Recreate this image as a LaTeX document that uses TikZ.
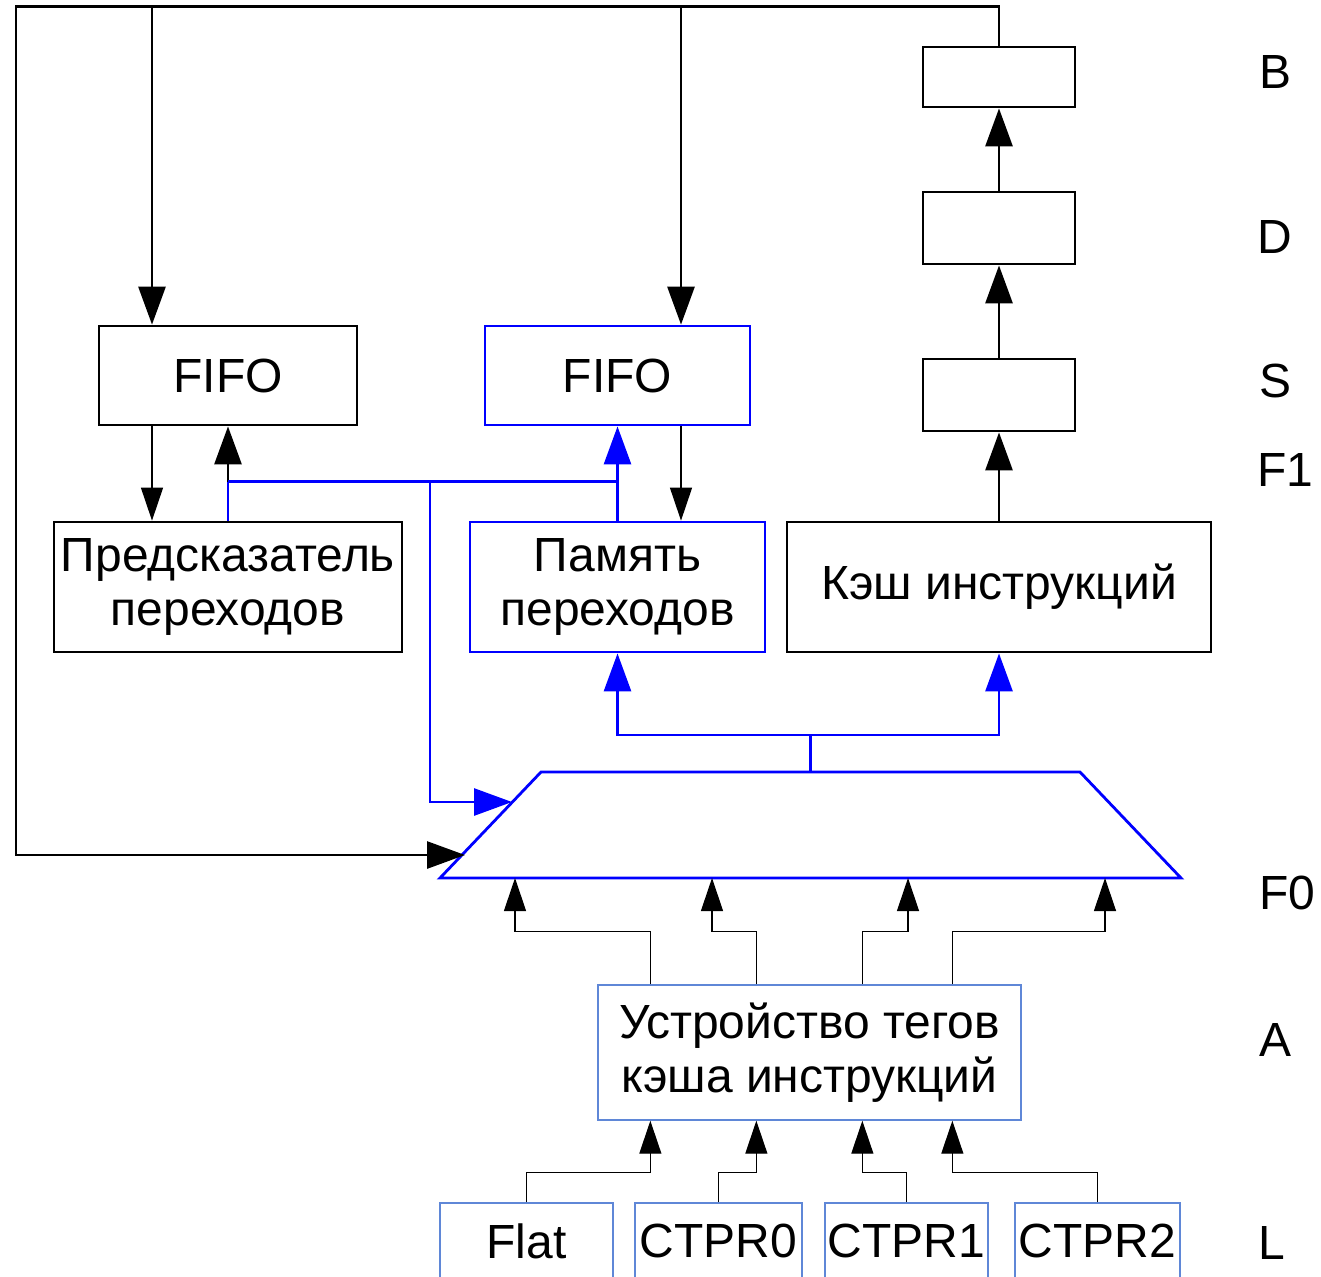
\documentclass[tikz,border=0pt]{standalone}
\usepackage{fontspec}
\setmainfont{Liberation Sans}
\usepackage{xcolor}
\usetikzlibrary{arrows.meta,positioning,calc}

\definecolor{tagblue}{RGB}{95,135,215}
\newcommand{\bigtxt}{\fontsize{27.3}{30.5}\selectfont}

\begin{document}
\begin{tikzpicture}[
    x=0.02cm, y=-0.02cm,
    box/.style={draw, line width=1.6pt, inner sep=0pt, align=center, font=\bigtxt},
    bbox/.style={box, draw=blue},
    tbox/.style={draw=tagblue, line width=0.8pt, inner sep=0pt, align=center, font=\bigtxt},
    lbl/.style={font=\bigtxt},
    wire/.style={line width=1.6pt},
    bwire/.style={wire, blue},
    arr/.style={-{Triangle[length=0.76cm, width=0.54cm]}, line width=1.6pt},
    barr/.style={arr, blue},
    tarr/.style={-{Triangle[length=0.66cm, width=0.44cm]}, line width=0.7pt}
]
\useasboundingbox (0,0) rectangle (1321,1276);

% pipeline stages
\node[box, minimum width=3.04cm, minimum height=1.2cm] (rb) at (999,77) {};
\node[box, minimum width=3.04cm, minimum height=1.44cm] (rd) at (999,228) {};
\node[box, minimum width=3.04cm, minimum height=1.44cm] (rs) at (999,395) {};
\node[box, minimum width=8.48cm, minimum height=2.6cm] (icache) at (999,587) {Кэш инструкций};
\draw[arr] (icache) -- (rs);
\draw[arr] (rs) -- (rd);
\draw[arr] (rd) -- (rb);

% fifos and branch units
\node[box, minimum width=5.16cm, minimum height=1.98cm] (fifoa) at (228,375.5) {FIFO};
\node[bbox, minimum width=5.3cm, minimum height=1.98cm] (fifob) at (617.5,375.5) {FIFO};
\node[box, minimum width=6.96cm, minimum height=2.6cm] (pred) at (228,587) {Предсказатель\\переходов};
\node[bbox, minimum width=5.9cm, minimum height=2.6cm] (bmem) at (617.5,587) {Память\\переходов};

% tag unit and sources
\node[tbox, minimum width=8.46cm, minimum height=2.7cm] (tags) at (809.5,1052.5) {Устройство тегов\\кэша инструкций};
\foreach \n/\t/\x/\w in {flat/Flat/526.5/3.46, ctpra/CTPR0/718.5/3.34, ctprb/CTPR1/906.5/3.26, ctprc/CTPR2/1097.5/3.3}
    \node[tbox, minimum width=\w cm, minimum height=1.52cm] (\n) at (\x,1241) {\t};

% multiplexer
\coordinate (mbl) at (440,878);
\coordinate (mtl) at (541,772);
\coordinate (mtr) at (1080,772);
\coordinate (mbr) at (1181,878);
\coordinate (mtop) at ($(mtl)!0.5!(mtr)$);
\coordinate (mfa) at (512,802);
\coordinate (mfb) at (465,855);
\draw[bwire] (mbl) -- (mtl) -- (mtr) -- (mbr) -- cycle;

% stage labels
\node[lbl] (lb) at (1275,72) {B};
\node[lbl] (ld) at (1275,237) {D};
\node[lbl] (ls) at (1275,381) {S};
\node[lbl] (lfa) at (1285,470) {F1};
\node[lbl] (lfz) at (1287,893) {F0};
\node[lbl] (la) at (1275,1040) {A};
\node[lbl] (ll) at (1272,1243) {L};

% return loop from B
\coordinate (loopc) at (16,855);
\draw[arr] (rb.north) -- ++(0,-39) coordinate (ttop) -| (loopc) -- (mfb);
\coordinate (fa) at ($(fifoa.north)+(-76,0)$);
\coordinate (fb) at ($(fifob.north)+(63.5,0)$);
\draw[arr] (fa |- ttop) -- (fa);
\draw[arr] (fb |- ttop) -- (fb);

% fifo <-> branch units
\draw[tarr] ($(fifoa.south)+(-76,0)$) -- ($(pred.north)+(-76,0)$);
\draw[tarr] ($(fifob.south)+(63.5,0)$) -- ($(bmem.north)+(63.5,0)$);
\draw[bwire] (pred.north) -- ++(0,-39) coordinate (pj);
\draw[arr] (pj) -- (fifoa.south);
\draw[bwire] (pj) -- (bmem.north |- pj);
\draw[barr] (bmem.north) -- (fifob.south);
\draw[barr] ($(pj)+(202,0)$) |- (mfa);

% multiplexer out
\draw[bwire] (mtop) -- ++(0,-37) coordinate (mj);
\draw[barr] (mj) -| (bmem.south);
\draw[barr] (mj) -| (icache.south);

% tag unit -> multiplexer
\foreach \dx/\mx in {53/75, 159/272, 265/468, 355/665}
    \draw[tarr] ($(tags.north west)+(\dx,0)$) -- ++(0,-53) -| ($(mbl)+(\mx,0)$);

% sources -> tag unit
\foreach \n/\dx in {flat/53, ctpra/159, ctprb/265, ctprc/355}
    \draw[tarr] (\n.north) -- ++(0,-30) -| ($(tags.south west)+(\dx,0)$);
\end{tikzpicture}
\end{document}
